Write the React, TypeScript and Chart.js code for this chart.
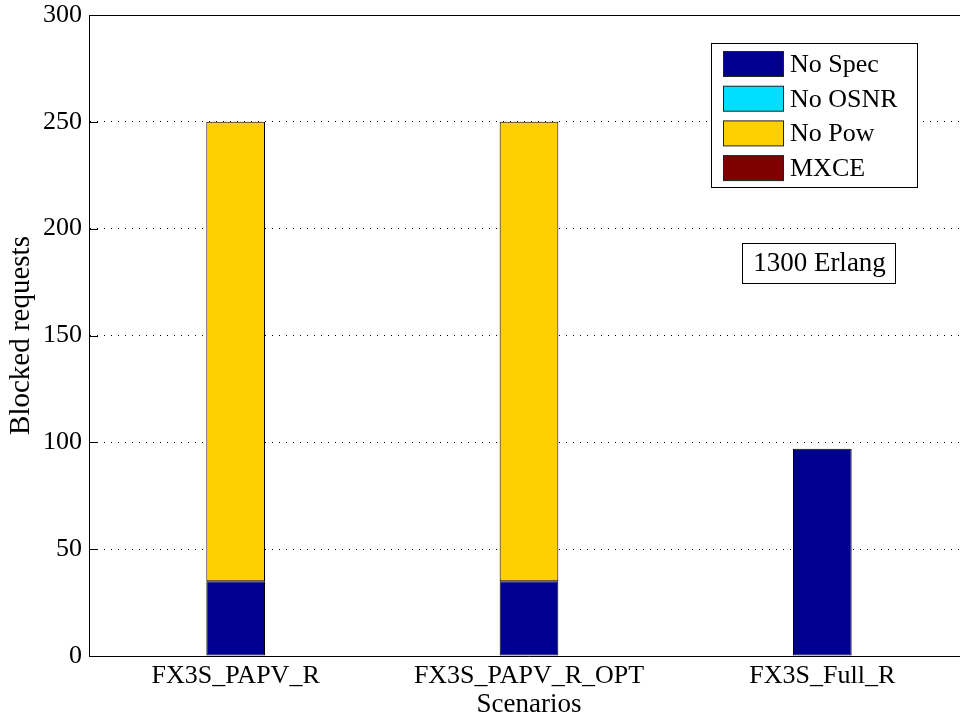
import React, { useEffect, useRef } from "react";
import { Chart, registerables } from "chart.js";
Chart.register(...registerables);

const categories = ["FX3S_PAPV_R", "FX3S_PAPV_R_OPT", "FX3S_Full_R"];
const noSpec = [35, 35, 97];
const noOsnr = [0, 0, 0];
const noPow = [215, 215, 0];
const mxce = [0, 0, 0];
const seriesLabels = ["No Spec", "No OSNR", "No Pow", "MXCE"];
const seriesColors = ["#00008F", "#00DFFF", "#FFCF00", "#800000"];
const yTickValues = [0, 50, 100, 150, 200, 250, 300];
const annotationText = "1300 Erlang";
const xTitle = "Scenarios";
const yTitle = "Blocked requests";

const FONT = "Liberation Serif, Times New Roman, serif";
const FS = 26;

const framePlugin = {
  id: "frame",
  afterDraw(chart: any) {
    const { ctx, chartArea, scales } = chart;
    ctx.save();
    ctx.strokeStyle = "#000";
    ctx.lineWidth = 1;
    ctx.setLineDash([]);
    ctx.beginPath();
    ctx.moveTo(chartArea.left, Math.round(chartArea.top) + 0.5);
    ctx.lineTo(chartArea.right, Math.round(chartArea.top) + 0.5);
    ctx.stroke();
    const y = scales.y;
    yTickValues.forEach((v) => {
      const py = Math.round(y.getPixelForValue(v)) + 0.5;
      ctx.beginPath();
      ctx.moveTo(chartArea.left, py);
      ctx.lineTo(chartArea.left + 9, py);
      ctx.stroke();
    });
    // legend
    const lx = 711, ly = 43, lw = 206, lh = 144;
    ctx.fillStyle = "#fff";
    ctx.fillRect(lx, ly, lw, lh);
    ctx.strokeRect(lx + 0.5, ly + 0.5, lw, lh);
    ctx.font = `${FS}px ${FONT}`;
    ctx.textBaseline = "middle";
    ctx.textAlign = "left";
    chart.data.datasets.forEach((ds: any, i: number) => {
      const cy = 64 + i * 34.7;
      ctx.fillStyle = ds.backgroundColor;
      ctx.fillRect(723, cy - 12.5, 60, 25);
      ctx.strokeStyle = "#222";
      ctx.strokeRect(723.5, cy - 12.5, 60, 25);
      ctx.fillStyle = "#000";
      ctx.fillText(ds.label, 790, cy + 1);
    });
    // annotation
    const ax = 742, ay = 243, aw = 153, ah = 40;
    ctx.fillStyle = "#fff";
    ctx.fillRect(ax, ay, aw, ah);
    ctx.strokeStyle = "#000";
    ctx.strokeRect(ax + 0.5, ay + 0.5, aw, ah);
    ctx.fillStyle = "#000";
    ctx.font = `27px ${FONT}`;
    ctx.textAlign = "center";
    ctx.fillText(annotationText, ax + aw / 2 + 1, ay + ah / 2 + 1);
    ctx.restore();
  },
};

export default function App() {
  const ref = useRef<HTMLCanvasElement | null>(null);
  useEffect(() => {
    if (!ref.current) return;
    const seriesData = [noSpec, noOsnr, noPow, mxce];
    const chart = new Chart(ref.current, {
      type: "bar",
      data: {
        labels: categories,
        datasets: seriesLabels.map((label, i) => ({
          label,
          data: seriesData[i],
          backgroundColor: seriesColors[i],
          borderColor: "#000",
          borderWidth: (c: any) => (c.raw === 0 ? 0 : 1),
          borderSkipped: false,
          categoryPercentage: 1,
          barPercentage: 0.2,
        })),
      },
      options: {
        animation: false,
        responsive: false,
        maintainAspectRatio: false,
        layout: { padding: { left: 0, right: 31, top: 15, bottom: 0 } },
        plugins: { legend: { display: false }, tooltip: { enabled: false } },
        scales: {
          x: {
            stacked: true,
            offset: true,
            grid: { display: false, drawTicks: false },
            border: { display: true, color: "#000", width: 1 },
            ticks: { color: "#000", font: { family: FONT, size: FS }, padding: 5, maxRotation: 0 },
            title: {
              display: true,
              text: xTitle,
              color: "#000",
              font: { family: FONT, size: 27 },
              padding: { top: 0, bottom: -4 },
            },
            afterFit: (s: any) => {
              s.height = 61;
              s.paddingLeft = 0;
              s.paddingRight = 0;
            },
          },
          y: {
            stacked: true,
            min: 0,
            max: 300,
            afterBuildTicks: (s: any) => {
              s.ticks = yTickValues.map((v) => ({ value: v }));
            },
            grid: {
              drawTicks: false,
              color: (c: any) => (c.tick && (c.tick.value === 0 || c.tick.value === 300) ? "rgba(0,0,0,0)" : "#000"),
              lineWidth: 1,
            },
            border: { display: true, color: "#000", width: 1, dash: [1, 6] },
            ticks: { color: "#000", font: { family: FONT, size: FS }, padding: 7 },
            title: {
              display: true,
              text: yTitle,
              color: "#000",
              font: { family: FONT, size: 29 },
              padding: { top: 4, bottom: 0 },
            },
            afterFit: (s: any) => {
              s.width = 89;
              s.paddingTop = 0;
              s.paddingBottom = 0;
            },
          },
        },
      },
      plugins: [framePlugin],
    });
    return () => chart.destroy();
  }, []);
  return (
    <div style={{ position: "fixed", left: 0, top: 0, width: 960, height: 717, overflow: "hidden", background: "#fff" }}>
      <canvas ref={ref} width={1000} height={717} style={{ display: "block", width: 1000, height: 717 }} />
    </div>
  );
}
